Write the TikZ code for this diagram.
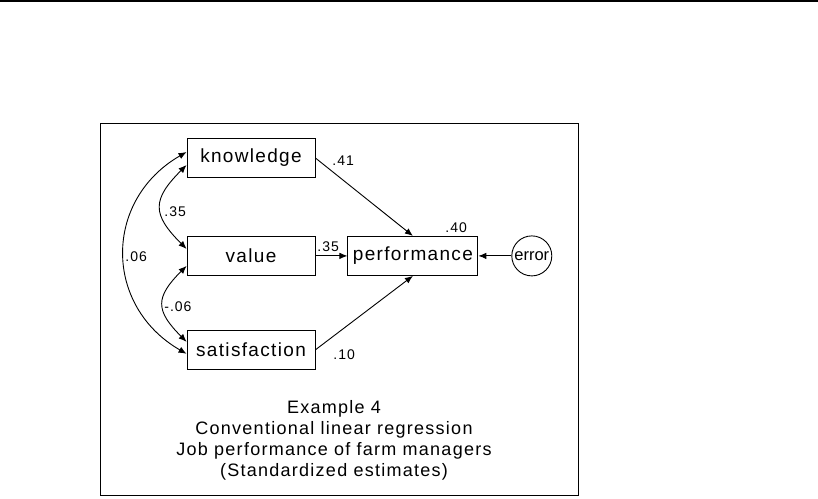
\documentclass[tikz,border=0pt]{standalone}
\usepackage{fontspec}
\setmainfont{Liberation Sans}[LetterSpace=7]
\usetikzlibrary{arrows.meta,positioning}

\begin{document}
\begin{tikzpicture}[x=1pt, y=1pt, line width=0.9pt, node distance=32pt,
    every node/.style={font=\fontsize{19}{21}\selectfont},
    var/.style={draw, minimum width=128pt, minimum height=39pt, inner sep=0pt},
    est/.style={anchor=west, inner sep=0pt, font=\fontsize{14}{15}\selectfont},
    reg/.style={-{Latex[length=8pt,width=6.5pt]}},
    corr/.style={{Latex[length=8pt,width=6.5pt]}-{Latex[length=8pt,width=6.5pt]}}]
    \useasboundingbox (0,0) rectangle (818,498);
    \draw[line width=1.6pt] (0,497) -- (818,497);
    \draw (100,3) rectangle (578,375);

    \node[var] (know) at (251,340) {knowledge};
    \node[var, below=58pt of know] (val) {value};
    \node[var, below=54pt of val] (sat) {satisfaction};
    \node[var, minimum width=130pt, right=of val] (perf) {performance};
    \node[draw, circle, minimum size=40pt, inner sep=0pt, right=33pt of perf,
      font=\fontsize{16.5}{18}\selectfont\addfontfeatures{LetterSpace=0}] (err) {error};

    \draw[reg] (know.east) -- (perf.north);
    \draw[reg] (val) -- (perf);
    \draw[reg] (sat.east) -- (perf.south);
    \draw[reg] (err) -- (perf);

    \draw[corr] ([yshift=6pt]know.west) to[out=210, in=150, looseness=1.22] ([yshift=-4pt]sat.west);
    \draw[corr] ([yshift=-7pt]know.west) to[out=225, in=135, looseness=1.5] ([yshift=7pt]val.west);
    \draw[corr] ([yshift=-10pt]val.west) to[out=225, in=135, looseness=1.5] ([yshift=8pt]sat.west);

    \node[est] (bknow) at (332,337) {.41};
    \node[est] (bval) at (317,251) {.35};
    \node[est] (bsat) at (333,143) {.10};
    \node[est] (rsq) at (445,270) {.40};
    \node[est] (rkv) at (164,286) {.35};
    \node[est] (rks) at (125,241) {.06};
    \node[est] (rvs) at (164,191) {-.06};

    \node[align=center, font=\fontsize{18}{21}\selectfont] (title) at (334,57.5) {Example 4\\Conventional linear regression\\Job performance of farm managers\\(Standardized estimates)};
  \end{tikzpicture}
\end{document}
